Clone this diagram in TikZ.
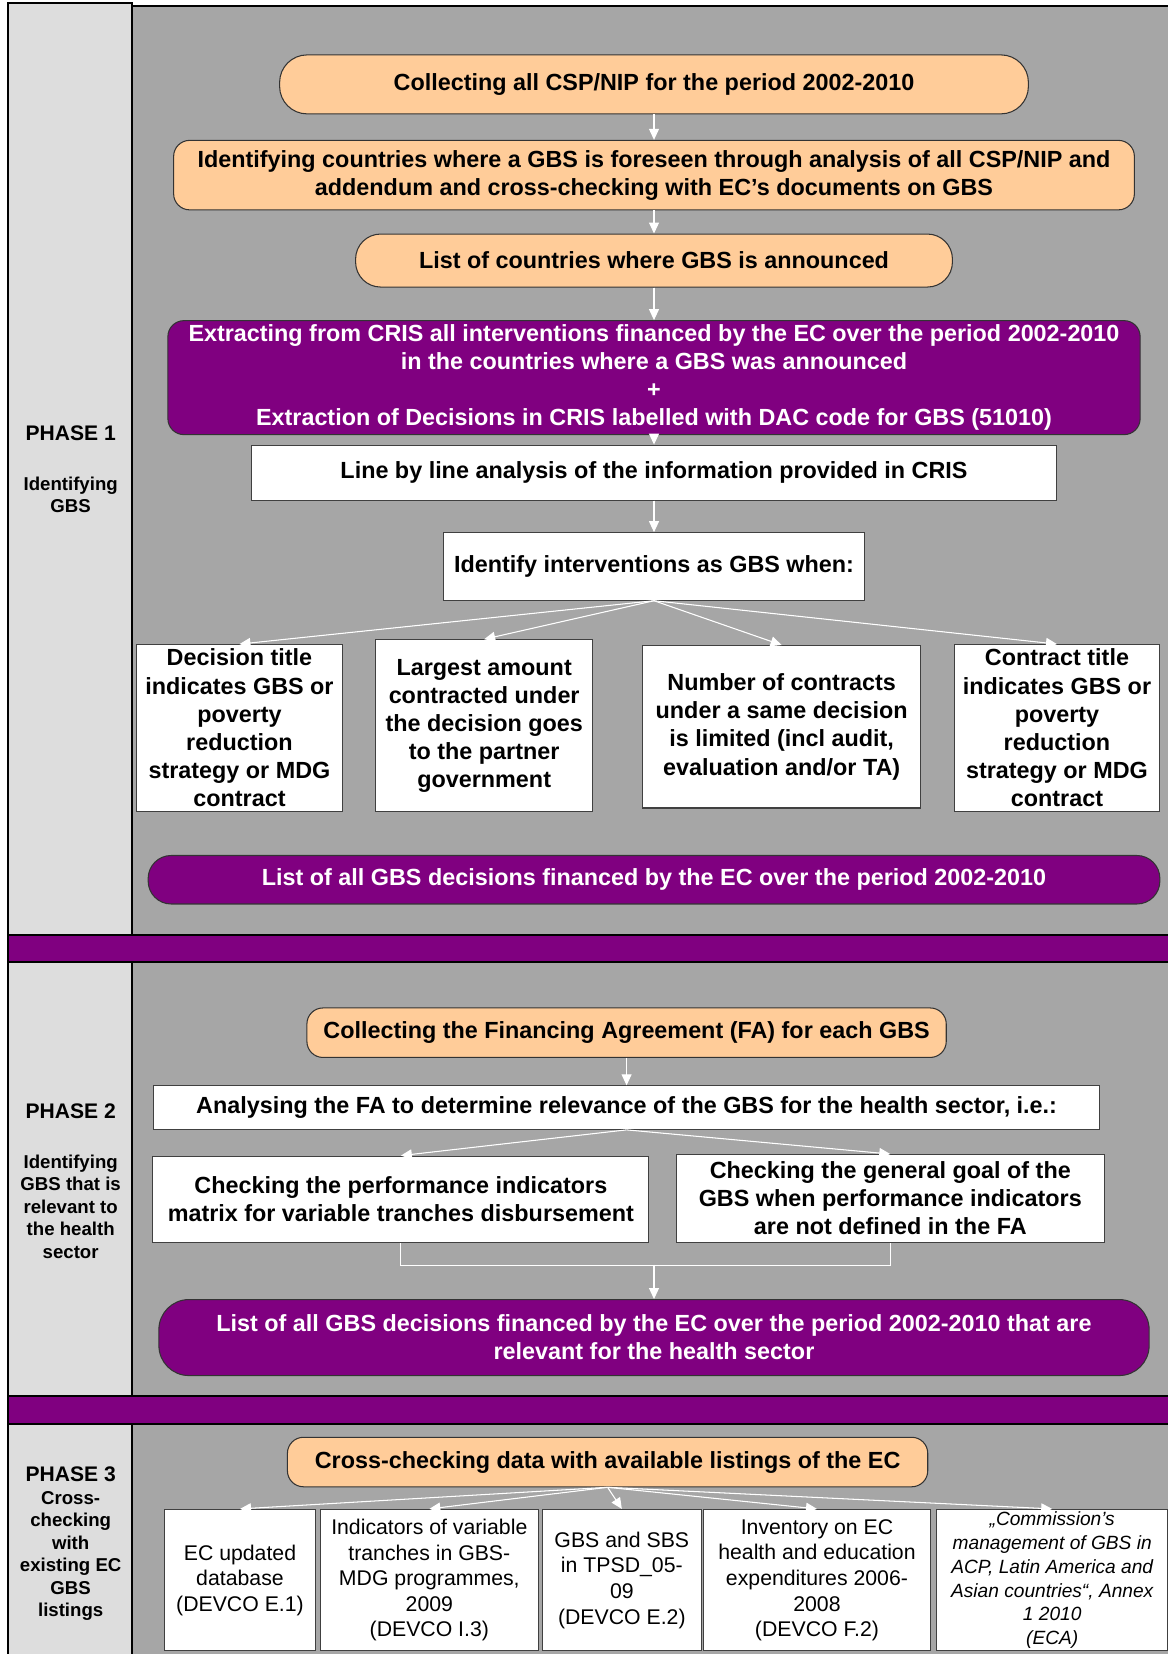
\documentclass[tikz,border=0pt]{standalone}
\usepackage{fontspec}
\setmainfont{Liberation Sans}
\usetikzlibrary{positioning,arrows.meta,calc}
\definecolor{PanelGrey}{RGB}{166,166,166}
\definecolor{LabelGrey}{RGB}{221,221,221}
\definecolor{PeachFill}{RGB}{255,204,153}
\definecolor{PlumFill}{RGB}{128,0,128}
\newcommand{\mainfnt}{\fontsize{13.3}{16}\selectfont\bfseries}
\newcommand{\srcfnt}{\fontsize{12.1}{14.6}\selectfont}
\newcommand{\ecafnt}{\fontsize{10.9}{13.6}\selectfont\itshape}
\tikzset{
  flow/.style={-{Triangle[length=2.2mm,width=2mm]},line width=0.6pt,draw=white,fill=white},
  link/.style={line width=0.6pt,draw=white},
  peachbox/.style={draw=black!80,fill=PeachFill,line width=0.6pt,
    align=center,font=\mainfnt,inner sep=0pt},
  plumbox/.style={draw=black!80,fill=PlumFill,text=white,line width=0.6pt,
    align=center,font=\mainfnt,inner sep=0pt},
  whitebox/.style={draw=black!75,fill=white,line width=0.6pt,
    align=center,font=\mainfnt,inner sep=0pt},
  srcbox/.style={draw=black!75,fill=white,line width=0.6pt,
    align=center,font=\srcfnt,inner sep=0pt,minimum height=2.83cm},
  phaselabel/.style={align=center,font=\fontsize{12}{14}\selectfont\bfseries},
  phasenote/.style={align=center,font=\fontsize{10.6}{12.8}\selectfont\bfseries},
  panel/.style={fill=PanelGrey,draw=black,line width=1.2pt},
  labelcol/.style={fill=LabelGrey,draw=black,line width=1.2pt},
  band/.style={fill=PlumFill,draw=black,line width=1.2pt}
}

\begin{document}
\begin{tikzpicture}[x=0.0211cm,y=-0.0211cm]
  \useasboundingbox (0,0) rectangle (1107,1568);
  % background panels
  \draw[panel] (125,6) rectangle (1115,886);
  \draw[labelcol] (8,3) rectangle (125,886);
  \draw[panel] (125,912) rectangle (1115,1323);
  \draw[labelcol] (8,912) rectangle (125,1323);
  \draw[panel] (125,1350) rectangle (1115,1580);
  \draw[labelcol] (8,1350) rectangle (125,1580);
  \draw[band] (8,886) rectangle (1115,912);
  \draw[band] (8,1323) rectangle (1115,1350);

  % phase labels
  \node[phaselabel] (ph1) at (67,411) {PHASE 1};
  \node[phasenote] (ph1note) at (67,469) {Identifying\\GBS};
  \node[phaselabel] (ph2) at (67,1053) {PHASE 2};
  \node[phasenote] (ph2note) at (67,1144) {Identifying\\GBS that is\\relevant to\\the health\\sector};
  \node[phaselabel] (ph3) at (67,1398) {PHASE 3};
  \node[phasenote] (ph3note) at (67,1475) {Cross-\\checking\\with\\existing EC\\GBS\\listings};

  % phase 1
  \node[peachbox,minimum width=14.98cm,minimum height=1.18cm,rounded corners=0.55cm] (cspnip) at (620,80) {Collecting all CSP/NIP for the period 2002-2010};
  \node[peachbox,minimum width=19.22cm,minimum height=1.39cm,rounded corners=0.32cm] (foreseen) at (620,166) {Identifying countries where a GBS is foreseen through analysis of all CSP/NIP and\\addendum and cross-checking with EC’s documents on GBS};
  \node[peachbox,minimum width=11.94cm,minimum height=1.06cm,rounded corners=0.5cm] (announced) at (620,247) {List of countries where GBS is announced};
  \node[plumbox,minimum width=19.45cm,minimum height=2.28cm,rounded corners=0.32cm] (extract) at (620,358) {Extracting from CRIS all interventions financed by the EC over the period 2002-2010\\in the countries where a GBS was announced\\+\\Extraction of Decisions in CRIS labelled with DAC code for GBS (51010)};
  \node[whitebox,minimum width=16.12cm,minimum height=1.10cm] (linecheck) at (620,448) {Line by line analysis of the information provided in CRIS};
  \node[whitebox,minimum width=8.44cm,minimum height=1.35cm] (whengbs) at (620,537) {Identify interventions as GBS when:};
  \node[whitebox,minimum width=4.11cm,minimum height=3.33cm] (critdec) at (227,690) {Decision title\\indicates GBS or\\poverty\\reduction\\strategy or MDG\\contract};
  \node[whitebox,minimum width=4.33cm,minimum height=3.44cm] (critamt) at (459,688) {Largest amount\\contracted under\\the decision goes\\to the partner\\government};
  \node[whitebox,minimum width=5.57cm,minimum height=3.25cm] (critnum) at (741,689) {Number of contracts\\under a same decision\\is limited (incl audit,\\evaluation and/or TA)};
  \node[whitebox,minimum width=4.11cm,minimum height=3.33cm] (critcon) at (1002,690) {Contract title\\indicates GBS or\\poverty\\reduction\\strategy or MDG\\contract};
  \node[plumbox,minimum width=20.24cm,minimum height=0.97cm,rounded corners=0.46cm] (gbslist) at (620,834) {List of all GBS decisions financed by the EC over the period 2002-2010};

  \draw[flow] (cspnip) -- (foreseen);
  \draw[flow] (foreseen) -- (announced);
  \draw[flow] (announced) -- (extract);
  \draw[flow] (extract) -- (linecheck);
  \draw[flow] (linecheck) -- (whengbs);
  \draw[flow] (whengbs.south) -- (critdec.north);
  \draw[flow] (whengbs.south) -- (critamt.north);
  \draw[flow] (whengbs.south) -- (critnum.north);
  \draw[flow] (whengbs.south) -- (critcon.north);

  % phase 2
  \node[peachbox,minimum width=12.79cm,minimum height=0.99cm,rounded corners=0.32cm] (fagbs) at (594,979) {Collecting the Financing Agreement (FA) for each GBS};
  \node[whitebox,minimum width=18.91cm,minimum height=0.87cm] (farelev) at (594,1050) {Analysing the FA to determine relevance of the GBS for the health sector, i.e.:};
  \node[whitebox,minimum width=9.92cm,minimum height=1.73cm] (perfmat) at (380,1137) {Checking the performance indicators\\matrix for variable tranches disbursement};
  \node[whitebox,minimum width=8.57cm,minimum height=1.75cm] (goalchk) at (844,1136) {Checking the general goal of the\\GBS when performance indicators\\are not defined in the FA};
  \node[plumbox,minimum width=19.81cm,minimum height=1.52cm,rounded corners=0.6cm] (healthlist) at (620,1268) {List of all GBS decisions financed by the EC over the period 2002-2010 that are\\relevant for the health sector};
  \coordinate (merge) at (620,1199);

  \draw[flow] (fagbs) -- (farelev);
  \draw[flow] (farelev.south) -- (perfmat.north);
  \draw[flow] (farelev.south) -- (goalchk.north);
  \draw[link] (perfmat.south) -- ++(0,21) -| (goalchk.south);
  \draw[flow] (merge) -- (healthlist.north);

  % phase 3
  \node[peachbox,minimum width=12.81cm,minimum height=0.99cm,rounded corners=0.32cm] (crosschk) at (576,1386) {Cross-checking data with available listings of the EC};
  \node[srcbox,minimum width=3.02cm] (srcdb) at (227.5,1498) {EC updated\\database\\(DEVCO E.1)};
  \node[srcbox,minimum width=4.35cm] (srcind) at (407,1498) {Indicators of variable\\tranches in GBS-\\MDG programmes,\\2009\\(DEVCO I.3)};
  \node[srcbox,minimum width=3.19cm] (srctpsd) at (589.5,1498) {GBS and SBS\\in TPSD\_05-\\09\\(DEVCO E.2)};
  \node[srcbox,minimum width=4.54cm] (srcinv) at (774.5,1498) {Inventory on EC\\health and education\\expenditures 2006-\\2008\\(DEVCO F.2)};
  \node[srcbox,minimum width=4.62cm,font=\ecafnt] (srceca) at (997.5,1498) {„Commission’s\\management of GBS in\\ACP, Latin America and\\Asian countries“, Annex\\1 2010\\(ECA)};

  \draw[flow] (crosschk.south) -- (srcdb.north);
  \draw[flow] (crosschk.south) -- (srcind.north);
  \draw[flow] (crosschk.south) -- (srctpsd.north);
  \draw[flow] (crosschk.south) -- (srcinv.north);
  \draw[flow] (crosschk.south) -- (srceca.north);
\end{tikzpicture}
\end{document}
